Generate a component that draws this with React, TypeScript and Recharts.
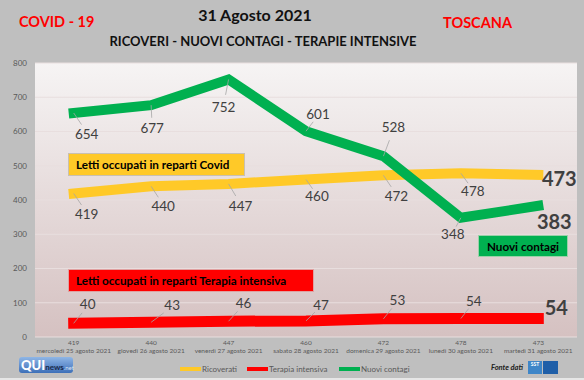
import { LineChart, Line, XAxis, YAxis, CartesianGrid } from 'recharts'

const days = [
  'mercoledì 25 agosto 2021',
  'giovedì 26 agosto 2021',
  'venerdì 27 agosto 2021',
  'sabato 28 agosto 2021',
  'domenica 29 agosto 2021',
  'lunedì 30 agosto 2021',
  'martedì 31 agosto 2021',
]
const ricoverati = [419, 440, 447, 460, 472, 478, 473]
const terapiaIntensiva = [40, 43, 46, 47, 53, 54, 54]
const nuoviContagi = [654, 677, 752, 601, 528, 348, 383]
const yTicks = [0, 100, 200, 300, 400, 500, 600, 700, 800]

// where each data label sits relative to its point
const ricoveratiOffsets = [[13, 21], [12, 20], [12, 22], [11, 17], [13, 21], [12, 18], [21, 3]]
const terapiaOffsets = [[14, -19], [21, -17], [15, -18], [15, -16], [14, -19], [13, -18], [18, -12]]
const contagiOffsets = [[13, 21], [1, 23], [-5, 28], [12, -17], [10, -29], [-8, 16], [16, 15]]

const data = days.map((day, i) => ({
  day,
  ricoverati: ricoverati[i],
  terapia: terapiaIntensiva[i],
  contagi: nuoviContagi[i],
}))

const FONT = 'Lato, "Open Sans", sans-serif'

function makeLabel(offsets: number[][]) {
  return (props: any) => {
    const { x, y, value, index } = props
    const [dx, dy] = offsets[index]
    const last = index === data.length - 1
    if (last) {
      return (
        <text key={index} x={x + dx} y={y + dy} textAnchor="middle" dominantBaseline="central"
          fontFamily={FONT} fontWeight={700} fontSize={20} fill="#404040">{value}</text>
      )
    }
    return (
      <g key={index}>
        <line x1={x} y1={y} x2={x + dx * 0.6} y2={y + dy * 0.55} stroke="#a6a6a6" strokeWidth={0.8} />
        <text x={x + dx} y={y + dy} textAnchor="middle" dominantBaseline="central"
          fontFamily={FONT} fontSize={13.5} fill="#404040">{value}</text>
      </g>
    )
  }
}

function DayTick(props: any) {
  const { x, y, payload, index } = props
  return (
    <g>
      <text x={x} y={y} textAnchor="middle" fontFamily={FONT} fontSize={6.5} fill="#595959">{ricoverati[index]}</text>
      <text x={x} y={y + 8} textAnchor="middle" fontFamily={FONT} fontSize={6.5} fill="#595959">{payload.value}</text>
    </g>
  )
}

const legendItems = [
  { name: 'Ricoverati', color: '#ffc928', left: 180 },
  { name: 'Terapia intensiva', color: '#ff0000', left: 247 },
  { name: 'Nuovi contagi', color: '#00b050', left: 339 },
]

export default function App() {
  return (
    <div style={{ position: 'absolute', left: 0, top: 0, width: 584, height: 380, background: '#bfbfbf', overflow: 'hidden', fontFamily: FONT }}>
      <svg width={0} height={0} style={{ position: 'absolute' }}>
        <defs>
          <linearGradient id="plotBg" x1="0" y1="0" x2="0" y2="1">
            <stop offset="0%" stopColor="#f6f4f4" />
            <stop offset="100%" stopColor="#d5c1c1" />
          </linearGradient>
        </defs>
      </svg>

      <LineChart width={584} height={380} data={data} margin={{ top: 63, right: 7, bottom: 0, left: 0 }}>
        <CartesianGrid vertical={false} stroke="#e8dede" fill="url(#plotBg)" fillOpacity={1} />
        <XAxis dataKey="day" height={43} axisLine={false} tickLine={false} interval={0}
          padding={{ left: 38.7, right: 38.7 }} tick={<DayTick />} />
        <YAxis width={35} domain={[0, 800]} ticks={yTicks} axisLine={false} tickLine={false}
          tick={{ fontSize: 8, fill: '#595959', fontFamily: FONT }} />
        <Line dataKey="ricoverati" name="Ricoverati" stroke="#ffc928" strokeWidth={10} strokeLinecap="square"
          strokeLinejoin="miter" dot={false} isAnimationActive={false} label={makeLabel(ricoveratiOffsets)} />
        <Line dataKey="terapia" name="Terapia intensiva" stroke="#ff0000" strokeWidth={11} strokeLinecap="square"
          strokeLinejoin="miter" dot={false} isAnimationActive={false} label={makeLabel(terapiaOffsets)} />
        <Line dataKey="contagi" name="Nuovi contagi" stroke="#00b050" strokeWidth={10} strokeLinecap="square"
          strokeLinejoin="miter" dot={false} isAnimationActive={false} label={makeLabel(contagiOffsets)} />
      </LineChart>

      {/* titles */}
      <div style={{ position: 'absolute', left: 19, top: 13, color: '#ff0000', fontWeight: 700, fontSize: 14.5 }}>COVID - 19</div>
      <div style={{ position: 'absolute', left: 0, width: 510, top: 5, textAlign: 'center', color: '#111', fontWeight: 700, fontSize: 16 }}>31 Agosto 2021</div>
      <div style={{ position: 'absolute', left: 0, width: 526, top: 33, textAlign: 'center', color: '#111', fontWeight: 700, fontSize: 13 }}>RICOVERI - NUOVI CONTAGI - TERAPIE INTENSIVE</div>
      <div style={{ position: 'absolute', right: 72, top: 14, color: '#ff0000', fontWeight: 700, fontSize: 14.5 }}>TOSCANA</div>

      {/* annotation boxes */}
      <div style={{ position: 'absolute', left: 68, top: 153, width: 177, height: 23, background: '#ffc928', border: '1px solid #c9c0b0', boxSizing: 'border-box', fontWeight: 700, fontSize: 11.7, lineHeight: '21px', paddingLeft: 7, color: '#000' }}>Letti occupati in reparti Covid</div>
      <div style={{ position: 'absolute', left: 68, top: 269, width: 246, height: 23, background: '#ff0000', border: '1px solid #e0a0a0', boxSizing: 'border-box', fontWeight: 700, fontSize: 11.7, lineHeight: '21px', paddingLeft: 7, color: '#000' }}>Letti occupati in reparti Terapia intensiva</div>
      <div style={{ position: 'absolute', left: 478, top: 235, width: 90, height: 22, background: '#00b050', border: '1px solid #9ad0a8', boxSizing: 'border-box', fontWeight: 700, fontSize: 11.7, lineHeight: '20px', textAlign: 'center', color: '#000' }}>Nuovi contagi</div>

      {/* legend */}
      {legendItems.map((it) => (
        <div key={it.name} style={{ position: 'absolute', left: it.left, top: 364, display: 'flex', alignItems: 'center', height: 10 }}>
          <div style={{ width: 21, height: 3.5, background: it.color }} />
          <span style={{ fontSize: 8, color: '#595959', marginLeft: 1 }}>{it.name}</span>
        </div>
      ))}

      {/* logos and source */}
      <div style={{ position: 'absolute', left: 19, top: 357, width: 54, height: 16, borderRadius: 3, background: 'linear-gradient(#8fb6e6, #3d6fb8)', display: 'flex', alignItems: 'flex-end', paddingLeft: 2, boxSizing: 'border-box' }}>
        <span style={{ color: '#fff', fontWeight: 900, fontSize: 13, lineHeight: '15px' }}>QUI</span>
        <span style={{ color: '#1a2a4a', fontWeight: 700, fontSize: 8, lineHeight: '12px' }}>news</span>
        <span style={{ color: '#dbe6f5', fontSize: 6, lineHeight: '11px' }}>.net</span>
      </div>
      <div style={{ position: 'absolute', left: 491, top: 363, fontSize: 7.5, fontStyle: 'italic', fontWeight: 700, color: '#222' }}>Fonte dati</div>
      <div style={{ position: 'absolute', left: 528, top: 361, width: 14, height: 13, background: '#3e86c8', color: '#fff', fontSize: 5, fontWeight: 700, textAlign: 'center', lineHeight: '7px' }}>SST</div>
      <div style={{ position: 'absolute', left: 543, top: 361, width: 15, height: 13, background: '#1f5fa8' }} />
      <div style={{ position: 'absolute', left: 0, top: 378, width: 584, height: 2, background: '#e6e6e6' }} />
    </div>
  )
}
